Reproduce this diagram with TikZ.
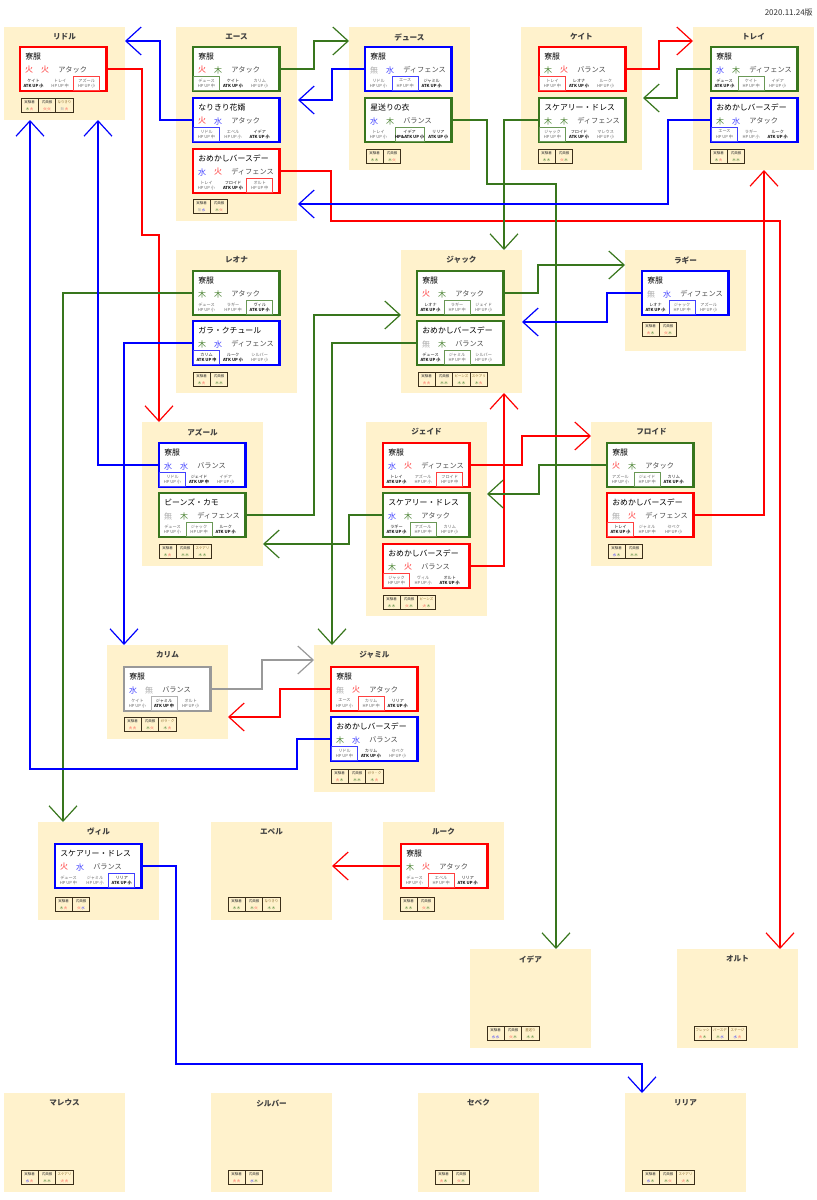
\documentclass[tikz,border=0pt]{standalone}
\usepackage{fontspec}
\setmainfont{Noto Sans CJK JP}
\usetikzlibrary{arrows.meta}

\definecolor{cream}{HTML}{FFF2CC}
\definecolor{lgreen}{HTML}{38761D}
\definecolor{lred}{HTML}{FF0000}
\definecolor{lblue}{HTML}{0000FF}
\definecolor{lgray}{HTML}{999999}
\definecolor{chipline}{HTML}{3B2F1A}
\definecolor{chipgold}{HTML}{8A6A2A}

\newcommand{\elF}{\textcolor{lred!80}{火}}
\newcommand{\elT}{\textcolor{lgreen!90}{木}}
\newcommand{\elW}{\textcolor{lblue!75}{水}}
\newcommand{\elN}{\textcolor{lgray!80}{無}}
\newcommand{\gold}[1]{\textcolor{chipgold}{#1}}
\newcommand{\atkstat}{\bfseries}
\newcommand{\hpstat}{}

\tikzset{
  panelbox/.style={fill=cream, anchor=north west, inner sep=0, outer sep=0, minimum width=90.75pt},
  paneltitle/.style={font=\fontsize{5.7pt}{6pt}\selectfont\bfseries, text=black!75, inner sep=0},
  cardbox/.style={draw=#1, line width=1.8pt, fill=white, anchor=north west, inner sep=0, outer sep=0,
    minimum width=65pt, minimum height=33pt},
  cardtitle/.style={font=\fontsize{5.9pt}{6pt}\selectfont, text=black, anchor=west, inner sep=0},
  element/.style={font=\fontsize{6pt}{6pt}\selectfont, inner sep=0},
  role/.style={font=\fontsize{5.4pt}{6pt}\selectfont, text=black!70, anchor=west, inner sep=0},
  skill/.style={font=\fontsize{3.1pt}{4.3pt}\selectfont, align=center, inner sep=0, outer sep=0,
    minimum width=19.5pt, minimum height=11pt},
  hp/.style={skill, text=black!60},
  atk/.style={skill, text=black!90},
  off/.style={},
  on/.style={draw=#1!75, line width=.6pt},
  wide/.style={on=#1, xshift=3.4pt},
  after/.style={xshift=5pt},
  chip/.style={draw=chipline, line width=.7pt, anchor=north west, inner sep=0, outer sep=0, align=center,
    minimum width=13pt, minimum height=11.2pt, font=\fontsize{2.6pt}{5pt}\selectfont, text=black!80},
  link/.style={draw=#1, line width=1.5pt, -{Straight Barb[length=11.5pt,width=21pt,line width=.9pt]}},
  stamp/.style={font=\fontsize{6pt}{7pt}\selectfont, text=black!80, anchor=east, inner sep=0}
}

% name, x, y, height, title, chips y, chips
\newcommand{\panel}[7]{
  \node[panelbox, minimum height=#4*0.75pt] (#1) at (#2,#3) {};
  \node[paneltitle] (#1-t) at ({#2+60.5},{#3+10}) {#5};
  \begin{scope}[shift={({#2+17},#6)}]
    \foreach \lb/\ea/\eb [count=\i] in {#7} {
      \node[chip] (#1-c\i) at ({17.4*(\i-1)},0) {\lb\\\ea\,\eb};
    }
  \end{scope}
}

% name, x, y, colour, title, element, element, role, skills
\newcommand{\card}[9]{
  \node[cardbox=#4] (#1) at (#2,#3) {};
  \begin{scope}[shift={(#2,#3)}]
    \node[cardtitle] (#1-t) at (5,9.5) {#5};
    \node[element] (#1-e1) at (9,23) {#6};
    \node[element] (#1-e2) at (25,23) {#7};
    \node[role] (#1-r) at (38,23) {#8};
    \foreach \na/\ty/\st/\hl [count=\i] in {#9} {
      \node[\ty, \hl=#4] (#1-s\i) at ({13.5+26.6*(\i-1)},36.5) {\na\\\csname\ty stat\endcsname\st};
    }
  \end{scope}
}

\begin{document}
\begin{tikzpicture}[x=0.75pt, y=-0.75pt]
	\useasboundingbox (0,0) rectangle (817,1200);

	\node[stamp] (date) at (813,12) {2020.11.24版};

	% panels
	\panel{riddle}{4}{27}{93}{リドル}{98}{実験着/\elT/\elF, 式典服/\elF/\elF, \gold{なりきり}/\elN/\elF}
	\panel{ace}{176}{27}{194}{エース}{199}{実験着/\elN/\elW, 式典服/\elT/\elF}
	\panel{deuce}{349}{27}{143}{デュース}{149}{実験着/\elT/\elT, 式典服/\elT/\elF}
	\panel{cater}{521}{27}{143}{ケイト}{149}{実験着/\elT/\elT, 式典服/\elF/\elT}
	\panel{trey}{693}{27}{143}{トレイ}{149}{実験着/\elT/\elF, 式典服/\elT/\elT}
	\panel{leona}{176}{250}{143}{レオナ}{372}{実験着/\elT/\elF, 式典服/\elT/\elT}
	\panel{jack}{401}{250}{143}{ジャック}{372}{実験着/\elF/\elF, 式典服/\elT/\elT, \gold{ビーンズ}/\elT/\elT, \gold{スケアリ}/\elT/\elF}
	\panel{ruggie}{625}{250}{101}{ラギー}{322}{実験着/\elF/\elT, 式典服/\elF/\elT}
	\panel{azul}{142}{422}{144}{アズール}{544}{実験着/\elT/\elF, 式典服/\elT/\elT, \gold{スケアリ}/\elT/\elT}
	\panel{jade}{366}{422}{194}{ジェイド}{595}{実験着/\elT/\elT, 式典服/\elF/\elT, \gold{ビーンズ}/\elF/\elT}
	\panel{floyd}{591}{422}{144}{フロイド}{544}{実験着/\elW/\elT, 式典服/\elT/\elT}
	\panel{kalim}{107}{645}{94}{カリム}{717}{実験着/\elF/\elF, 式典服/\elT/\elF, \gold{ガラ・ク}/\elT/\elF}
	\panel{jamil}{314}{645}{147}{ジャミル}{769}{実験着/\elF/\elT, 式典服/\elT/\elT, \gold{ガラ・ク}/\elT/\elF}
	\panel{vil}{38}{822}{98}{ヴィル}{897}{実験着/\elT/\elF, 式典服/\elF/\elW}
	\panel{epel}{211}{822}{98}{エペル}{897}{実験着/\elT/\elT, 式典服/\elT/\elF, \gold{なりきり}/\elT/\elT}
	\panel{rook}{383}{822}{98}{ルーク}{897}{実験着/\elT/\elT, 式典服/\elF/\elT}
	\panel{idia}{470}{949}{99}{イデア}{1026}{実験着/\elW/\elW, 式典服/\elF/\elT, \gold{星送り}/\elT/\elT}
	\panel{ortho}{677}{949}{99}{オルト}{1026}{\gold{フレッシ}/\elF/\elT, \gold{バースデ}/\elT/\elW, \gold{ステージ}/\elW/\elF}
	\panel{malleus}{4}{1093}{99}{マレウス}{1170}{実験着/\elW/\elF, 式典服/\elT/\elT, \gold{スケアリ}/\elF/\elF}
	\panel{silver}{211}{1093}{99}{シルバー}{1170}{実験着/\elF/\elF, 式典服/\elW/\elT}
	\panel{sebek}{418}{1093}{99}{セベク}{1170}{実験着/\elF/\elT, 式典服/\elF/\elT}
	\panel{lilia}{625}{1093}{99}{リリア}{1170}{実験着/\elW/\elT, 式典服/\elT/\elF, \gold{スケアリ}/\elF/\elT}

	% cards
	\card{riddle-a}{20}{47}{lred}{寮服}{\elF}{\elF}{アタック}{ケイト/atk/ATK UP 小/off, トレイ/hp/HP UP 中/off, アズール/hp/HP UP 小/on}
	\card{ace-a}{193}{47}{lgreen}{寮服}{\elF}{\elT}{アタック}{デュース/hp/HP UP 中/on, ケイト/atk/ATK UP 小/off, カリム/hp/HP UP 小/off}
	\card{ace-b}{193}{98}{lblue}{なりきり花婿}{\elF}{\elW}{アタック}{リドル/hp/HP UP 中/on, エペル/hp/HP UP 小/off, イデア/atk/ATK UP 小/off}
	\card{ace-c}{193}{149}{lred}{おめかしバースデー}{\elW}{\elF}{ディフェンス}{トレイ/hp/HP UP 小/off, フロイド/atk/ATK UP 小/off, オルト/hp/HP UP 中/on}
	\card{deuce-a}{365}{47}{lblue}{寮服}{\elN}{\elW}{ディフェンス}{リドル/hp/HP UP 小/off, エース/hp/HP UP 中/on, ジャミル/atk/ATK UP 小/off}
	\card{deuce-b}{365}{98}{lgreen}{星送りの衣}{\elW}{\elT}{バランス}{トレイ/hp/HP UP 小/off, イデア/atk/HP\&ATK UP 小/wide, リリア/atk/ATK UP 小/after}
	\card{cater-a}{539}{47}{lred}{寮服}{\elT}{\elF}{バランス}{トレイ/hp/HP UP 中/on, レオナ/atk/ATK UP 小/off, ルーク/hp/HP UP 小/off}
	\card{cater-b}{539}{98}{lgreen}{スケアリー・ドレス}{\elT}{\elT}{ディフェンス}{ジャック/hp/HP UP 中/on, フロイド/atk/ATK UP 小/off, マレウス/hp/HP UP 小/off}
	\card{trey-a}{711}{47}{lgreen}{寮服}{\elW}{\elT}{ディフェンス}{デュース/atk/ATK UP 小/off, ケイト/hp/HP UP 中/on, イデア/hp/HP UP 小/off}
	\card{trey-b}{711}{98}{lblue}{おめかしバースデー}{\elT}{\elW}{アタック}{エース/hp/HP UP 中/on, ラギー/hp/HP UP 小/off, ルーク/atk/ATK UP 小/off}
	\card{leona-a}{193}{271}{lgreen}{寮服}{\elT}{\elT}{アタック}{デュース/hp/HP UP 小/off, ラギー/hp/HP UP 中/off, ヴィル/atk/ATK UP 小/on}
	\card{leona-b}{193}{321}{lblue}{ガラ・クチュール}{\elT}{\elW}{ディフェンス}{カリム/atk/ATK UP 中/on, ルーク/atk/ATK UP 小/off, シルバー/hp/HP UP 小/off}
	\card{jack-a}{417}{271}{lgreen}{寮服}{\elF}{\elT}{アタック}{レオナ/atk/ATK UP 小/off, ラギー/hp/HP UP 中/on, ジェイド/hp/HP UP 小/off}
	\card{jack-b}{417}{321}{lgreen}{おめかしバースデー}{\elN}{\elT}{バランス}{デュース/atk/ATK UP 小/off, ジャミル/hp/HP UP 中/on, シルバー/hp/HP UP 小/off}
	\card{ruggie-a}{642}{271}{lblue}{寮服}{\elN}{\elW}{ディフェンス}{レオナ/atk/ATK UP 小/off, ジャック/hp/HP UP 中/on, アズール/hp/HP UP 小/off}
	\card{azul-a}{159}{443}{lblue}{寮服}{\elW}{\elW}{バランス}{リドル/hp/HP UP 小/on, ジェイド/atk/ATK UP 中/off, イデア/hp/HP UP 小/off}
	\card{azul-b}{159}{493}{lgreen}{ビーンズ・カモ}{\elN}{\elT}{ディフェンス}{デュース/hp/HP UP 小/off, ジャック/hp/HP UP 中/on, ルーク/atk/ATK UP 小/off}
	\card{jade-a}{383}{443}{lred}{寮服}{\elW}{\elF}{ディフェンス}{トレイ/atk/ATK UP 小/off, アズール/hp/HP UP 小/off, フロイド/hp/HP UP 中/on}
	\card{jade-b}{383}{493}{lgreen}{スケアリー・ドレス}{\elW}{\elT}{アタック}{ラギー/atk/ATK UP 小/off, アズール/hp/HP UP 中/on, カリム/hp/HP UP 小/off}
	\card{jade-c}{383}{544}{lred}{おめかしバースデー}{\elT}{\elF}{バランス}{ジャック/hp/HP UP 中/on, ヴィル/hp/HP UP 小/off, オルト/atk/ATK UP 小/off}
	\card{floyd-a}{607}{443}{lgreen}{寮服}{\elF}{\elT}{アタック}{アズール/hp/HP UP 小/off, ジェイド/hp/HP UP 中/on, カリム/atk/ATK UP 小/off}
	\card{floyd-b}{607}{493}{lred}{おめかしバースデー}{\elN}{\elF}{ディフェンス}{トレイ/atk/ATK UP 小/on, ジャミル/hp/HP UP 中/off, セベク/hp/HP UP 小/off}
	\card{kalim-a}{124}{667}{lgray}{寮服}{\elW}{\elN}{バランス}{ケイト/hp/HP UP 小/off, ジャミル/atk/ATK UP 中/on, オルト/hp/HP UP 小/off}
	\card{jamil-a}{331}{667}{lred}{寮服}{\elN}{\elF}{アタック}{エース/hp/HP UP 小/off, カリム/hp/HP UP 中/on, リリア/atk/ATK UP 小/off}
	\card{jamil-b}{331}{717}{lblue}{おめかしバースデー}{\elT}{\elW}{バランス}{リドル/hp/HP UP 中/on, カリム/atk/ATK UP 小/off, セベク/hp/HP UP 小/off}
	\card{vil-a}{55}{844}{lblue}{スケアリー・ドレス}{\elF}{\elW}{バランス}{デュース/hp/HP UP 中/off, ジャミル/hp/HP UP 小/off, リリア/atk/ATK UP 小/on}
	\card{rook-a}{401}{844}{lred}{寮服}{\elT}{\elF}{アタック}{デュース/hp/HP UP 小/off, エペル/hp/HP UP 中/on, リリア/atk/ATK UP 小/off}

	% free ends on the panel edges
	\coordinate (riddle-r) at (125,41);
	\coordinate (riddle-d1) at (30,120);
	\coordinate (riddle-d2) at (98,120);
	\coordinate (ace-r1) at (298,100);
	\coordinate (ace-r2) at (298,204);
	\coordinate (deuce-l) at (349,41);
	\coordinate (cater-r) at (643,98);
	\coordinate (trey-l) at (693,41);
	\coordinate (trey-d) at (764,170);
	\coordinate (jack-u) at (504,250);
	\coordinate (jack-l) at (401,315);
	\coordinate (jack-r) at (522,322);
	\coordinate (jack-d) at (504,393);
	\coordinate (ruggie-l) at (625,265);
	\coordinate (azul-u) at (159,422);
	\coordinate (azul-r) at (263,544);
	\coordinate (jade-r) at (487,494);
	\coordinate (floyd-l) at (591,436);
	\coordinate (kalim-u) at (124,645);
	\coordinate (kalim-r) at (228,717);
	\coordinate (jamil-u) at (332,645);
	\coordinate (jamil-l) at (314,660);
	\coordinate (vil-u) at (63,822);
	\coordinate (epel-r) at (332,866);
	\coordinate (idia-u) at (556,949);
	\coordinate (ortho-u) at (780,949);
	\coordinate (lilia-u) at (642,1093);

	% connectors
	\draw[link=lred] (riddle-a.east) -- (142,69) -- (142,235) -- (159,235) -- (azul-u);
	\draw[link=lgreen] (ace-a.east) -- (314,69) -- (314,41) -- (deuce-l);
	\draw[link=lblue] (ace-b.west) -- (160,120) -- (160,41) -- (riddle-r);
	\draw[link=lred] (ace-c.east) -- (331,171) -- (331,221) -- (780,221) -- (ortho-u);
	\draw[link=lblue] (deuce-a.west) -- (332,69) -- (332,100) -- (ace-r1);
	\draw[link=lgreen] (deuce-b.east) -- (487,120) -- (487,184) -- (556,184) -- (idia-u);
	\draw[link=lred] (cater-a.east) -- (659,69) -- (659,41) -- (trey-l);
	\draw[link=lgreen] (cater-b.west) -- (504,120) -- (jack-u);
	\draw[link=lgreen] (trey-a.west) -- (677,69) -- (677,98) -- (cater-r);
	\draw[link=lblue] (trey-b.west) -- (668,120) -- (668,204) -- (ace-r2);
	\draw[link=lgreen] (leona-a.west) -- (63,293) -- (vil-u);
	\draw[link=lblue] (leona-b.west) -- (124,343) -- (kalim-u);
	\draw[link=lgreen] (jack-a.east) -- (538,293) -- (538,265) -- (ruggie-l);
	\draw[link=lgreen] (jack-b.west) -- (332,343) -- (jamil-u);
	\draw[link=lblue] (ruggie-a.west) -- (607,293) -- (607,322) -- (jack-r);
	\draw[link=lblue] (azul-a.west) -- (98,465) -- (riddle-d2);
	\draw[link=lgreen] (azul-b.east) -- (314,515) -- (314,315) -- (jack-l);
	\draw[link=lred] (jade-a.east) -- (522,465) -- (522,436) -- (floyd-l);
	\draw[link=lgreen] (jade-b.west) -- (349,515) -- (349,544) -- (azul-r);
	\draw[link=lred] (jade-c.east) -- (504,566) -- (jack-d);
	\draw[link=lgreen] (floyd-a.west) -- (539,465) -- (539,494) -- (jade-r);
	\draw[link=lred] (floyd-b.east) -- (764,515) -- (trey-d);
	\draw[link=lgray] (kalim-a.east) -- (262,689) -- (262,660) -- (jamil-l);
	\draw[link=lred] (jamil-a.west) -- (280,689) -- (280,717) -- (kalim-r);
	\draw[link=lblue] (jamil-b.west) -- (297,739) -- (297,769) -- (30,769) -- (riddle-d1);
	\draw[link=lblue] (vil-a.east) -- (176,866) -- (176,1064) -- (642,1064) -- (lilia-u);
	\draw[link=lred] (rook-a.west) -- (epel-r);
\end{tikzpicture}
\end{document}
